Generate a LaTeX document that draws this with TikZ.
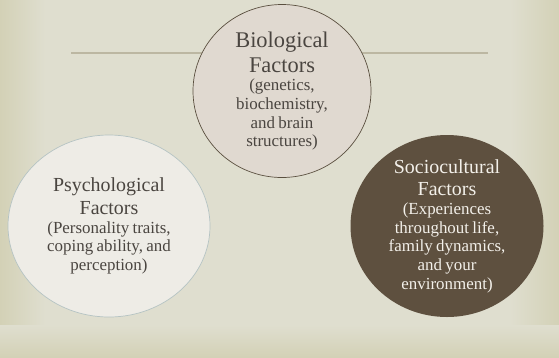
\documentclass[tikz,border=0pt]{standalone}
\usepackage{fontspec}
\setmainfont{Liberation Serif}
\usepackage{xcolor}
\usepackage{tikz}
\usetikzlibrary{positioning,calc}

\definecolor{bgmid}{HTML}{DFDECF}
\definecolor{bgedge}{HTML}{D3D1B6}
\definecolor{rulecol}{HTML}{BCB7A2}
\definecolor{biofill}{HTML}{E0D9D0}
\definecolor{bioline}{HTML}{5A4F3F}
\definecolor{psyfill}{HTML}{EEECE6}
\definecolor{psyline}{HTML}{B5C3C3}
\definecolor{socfill}{HTML}{5E503F}
\definecolor{darktext}{HTML}{4A4540}
\definecolor{lighttext}{HTML}{F3F0EA}

\newcommand{\bigtitle}{\fontsize{22.5}{25}\selectfont}
\newcommand{\midtitle}{\fontsize{20}{23}\selectfont}
\newcommand{\smalltext}{\fontsize{17}{18.7}\selectfont}

\tikzset{
    factor/.style={text width=180bp, align=center, inner sep=0pt, text=darktext},
    darkfactor/.style={factor, text=lighttext},
}

\begin{document}
\begin{tikzpicture}[x=1bp, y=-1bp]
    % background with darker edges
    \fill[bgmid] (0,0) rectangle (559,357);
    \shade[left color=bgedge, right color=bgmid] (0,0) rectangle (45,357);
    \shade[left color=bgmid, right color=bgedge] (510,0) rectangle (559,357);
    \shade[top color=bgmid, bottom color=bgedge] (0,325) rectangle (559,357);
    \useasboundingbox (0,0) rectangle (559,357);

    % rule behind the top circle
    \coordinate (ruleL) at (71,53);
    \coordinate (ruleR) at (488,53);
    \draw[rulecol, line width=1.3bp] (ruleL) -- (ruleR);

    % the three circles
    \coordinate (bioc) at (282,91);
    \coordinate (psyc) at (109,226);
    \coordinate (socc) at (447,226);
    \filldraw[fill=biofill, draw=bioline, line width=0.7bp] (bioc) ellipse [x radius=89, y radius=86.5];
    \filldraw[fill=psyfill, draw=psyline, line width=0.7bp] (psyc) ellipse [x radius=101, y radius=91];
    \fill[socfill] (socc) ellipse [x radius=96.5, y radius=91];

    \node[factor] (bio) at (bioc) {\bigtitle Biological\\ Factors\par
        \smalltext (genetics,\\ biochemistry,\\ and brain\\ structures)\par};
    \node[factor] (psy) at (psyc) {\midtitle Psychological\\ Factors\par
        \smalltext (Personality traits,\\ coping ability, and\\ perception)\par};
    \node[darkfactor] (soc) at (socc) {\midtitle Sociocultural\\ Factors\par
        \smalltext (Experiences\\ throughout life,\\ family dynamics,\\ and your\\ environment)\par};
\end{tikzpicture}
\end{document}
